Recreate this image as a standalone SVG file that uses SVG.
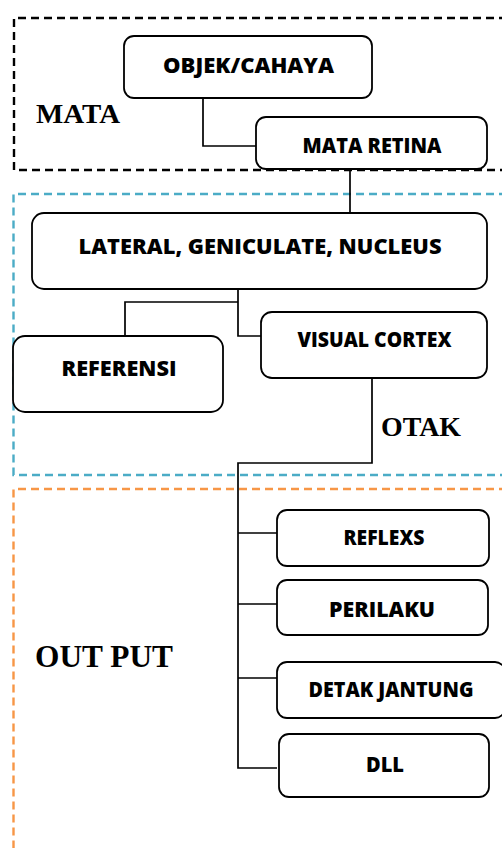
<svg xmlns="http://www.w3.org/2000/svg" width="502" height="848" viewBox="0 0 502 848">
<style>
.grp{fill:none;stroke-width:2.4;stroke-dasharray:8 5}
.box{fill:#fff;stroke:#000;stroke-width:1.8}
.t{font-family:"Open Sans","Liberation Sans",sans-serif;font-weight:800;font-size:21px;fill:#000;text-anchor:middle}
.lbl{font-family:"Liberation Serif","Times New Roman",serif;font-weight:bold;fill:#000}
.con{fill:none;stroke:#000;stroke-width:1.7}
</style>
<rect width="502" height="848" fill="#fff"/>
<g id="group-mata">
<path class="grp" d="M520,18 H14 V170 H520" stroke="#000"/>
<text class="lbl" x="36" y="123" font-size="28" textLength="84" lengthAdjust="spacingAndGlyphs">MATA</text>
</g>
<g id="group-otak">
<path class="grp" d="M520,194 H13.5 V475 H520" stroke="#4BACC6"/>
<text class="lbl" x="381" y="436" font-size="28" textLength="80" lengthAdjust="spacingAndGlyphs">OTAK</text>
</g>
<g id="group-output">
<path class="grp" d="M520,489 H13.5 V860" stroke="#F79646"/>
<text class="lbl" x="35" y="667" font-size="31" textLength="138" lengthAdjust="spacingAndGlyphs">OUT PUT</text>
</g>
<g id="connectors">
<path class="con" d="M203,98 V146 H256"/>
<path class="con" d="M350,169 V213"/>
<path class="con" d="M238,289 V336 H261"/>
<path class="con" d="M238,302 H125 V336"/>
<path class="con" d="M372,378 V463 H238 V768 H277"/>
<path class="con" d="M238,533 H277"/>
<path class="con" d="M238,604 H277"/>
<path class="con" d="M238,678 H277"/>
</g>
<g id="node-objek">
<rect class="box" x="124" y="36" width="248" height="62" rx="10"/>
<text class="t" x="248.5" y="72.5" textLength="171" lengthAdjust="spacingAndGlyphs">OBJEK/CAHAYA</text>
</g>
<g id="node-mata-retina">
<rect class="box" x="256" y="117" width="231" height="52" rx="10"/>
<text class="t" x="372" y="152.5" textLength="139" lengthAdjust="spacingAndGlyphs">MATA RETINA</text>
</g>
<g id="node-lgn">
<rect class="box" x="32" y="213" width="455" height="76" rx="12"/>
<text class="t" x="260" y="253.5" textLength="363" lengthAdjust="spacingAndGlyphs">LATERAL, GENICULATE, NUCLEUS</text>
</g>
<g id="node-referensi">
<rect class="box" x="13" y="336" width="210" height="76" rx="12"/>
<text class="t" x="119" y="376" textLength="115" lengthAdjust="spacingAndGlyphs">REFERENSI</text>
</g>
<g id="node-visual-cortex">
<rect class="box" x="261" y="312" width="226" height="66" rx="11"/>
<text class="t" x="374.5" y="347" textLength="154" lengthAdjust="spacingAndGlyphs">VISUAL CORTEX</text>
</g>
<g id="node-reflexs">
<rect class="box" x="277" y="510" width="212" height="56" rx="10"/>
<text class="t" x="384" y="545" textLength="81" lengthAdjust="spacingAndGlyphs">REFLEXS</text>
</g>
<g id="node-perilaku">
<rect class="box" x="277" y="580" width="211" height="55" rx="10"/>
<text class="t" x="382" y="617" textLength="106" lengthAdjust="spacingAndGlyphs">PERILAKU</text>
</g>
<g id="node-detak">
<rect class="box" x="277" y="662" width="228" height="56" rx="10"/>
<text class="t" x="391" y="697" textLength="165" lengthAdjust="spacingAndGlyphs">DETAK JANTUNG</text>
</g>
<g id="node-dll">
<rect class="box" x="279" y="734" width="210" height="63" rx="10"/>
<text class="t" x="385" y="772" textLength="38" lengthAdjust="spacingAndGlyphs">DLL</text>
</g>
</svg>
